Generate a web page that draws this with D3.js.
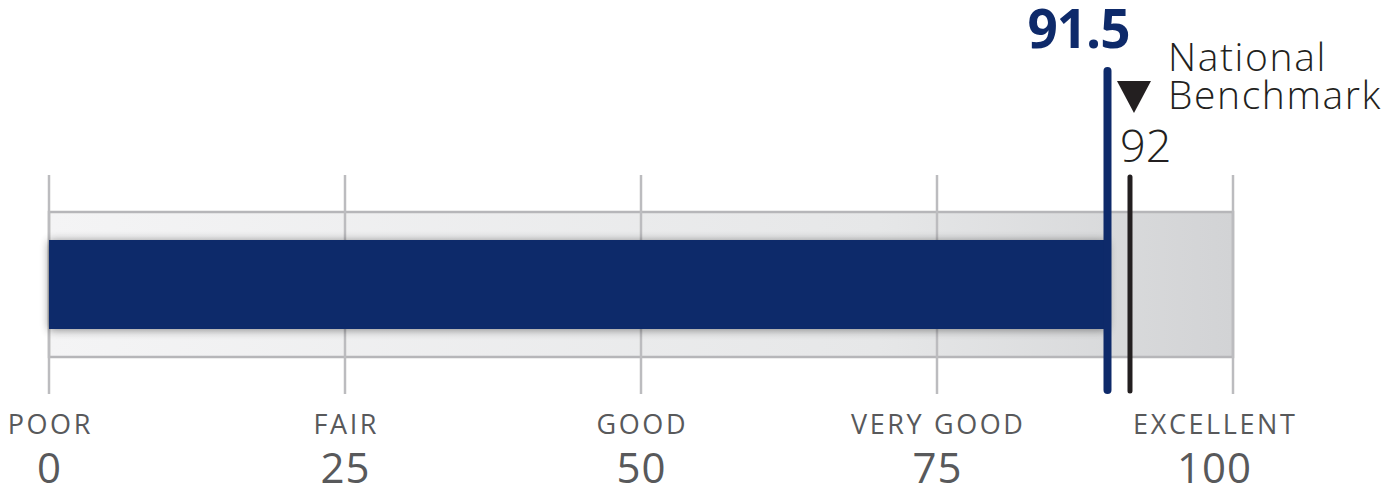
<!DOCTYPE html>
<html>
<head>
<meta charset="utf-8">
<script src="https://cdn.jsdelivr.net/npm/d3@7"></script>
<style>
  body { margin: 0; background: #fff; }
  svg text { font-family: "Open Sans", "DejaVu Sans", sans-serif; }
</style>
</head>
<body>
<div id="chart"></div>
<script>
'use strict';

// tick values and their rating names
var ticks = [0, 25, 50, 75, 100];
var ratings = ["POOR", "FAIR", "GOOD", "VERY GOOD", "EXCELLENT"];

// score shown and benchmark shown
var scoreLabel = [91.5];
var benchLabel = [92];
// where the reference actually draws them on the 0-100 axis
var scorePlot = [89.4];
var benchPlot = [91.3];

var width = 1387,
    height = 489;

var svg = d3.select("#chart").append("svg")
    .attr("width", width)
    .attr("height", height);

var x = d3.scaleLinear().domain([0, 100]).range([49, 1233]);

var defs = svg.append("defs");

var grad = defs.append("linearGradient")
    .attr("id", "trackGrad")
    .attr("x1", "0%").attr("x2", "100%")
    .attr("y1", "0%").attr("y2", "0%");
grad.append("stop").attr("offset", "0%").attr("stop-color", "#f4f4f5");
grad.append("stop").attr("offset", "70%").attr("stop-color", "#e6e7e8");
grad.append("stop").attr("offset", "100%").attr("stop-color", "#d2d3d5");

var shadow = defs.append("filter")
    .attr("id", "barShadow")
    .attr("x", "-5%").attr("y", "-40%")
    .attr("width", "110%").attr("height", "180%");
shadow.append("feGaussianBlur").attr("in", "SourceAlpha").attr("stdDeviation", 5).attr("result", "blur");
shadow.append("feOffset").attr("in", "blur").attr("dx", 0).attr("dy", 1).attr("result", "off");
shadow.append("feComponentTransfer").attr("in", "off").attr("result", "soft")
  .append("feFuncA").attr("type", "linear").attr("slope", 0.45);
var merge = shadow.append("feMerge");
merge.append("feMergeNode").attr("in", "soft");
merge.append("feMergeNode").attr("in", "SourceGraphic");

// background track
svg.append("rect")
    .attr("x", x(0))
    .attr("y", 212)
    .attr("width", x(100) - x(0))
    .attr("height", 145)
    .attr("fill", "url(#trackGrad)")
    .attr("stroke", "#b6b6b9")
    .attr("stroke-width", 2.5);

// grid lines at each tick
svg.selectAll(".grid")
    .data(ticks)
  .enter().append("line")
    .attr("class", "grid")
    .attr("x1", function(d) { return x(d); })
    .attr("x2", function(d) { return x(d); })
    .attr("y1", 175)
    .attr("y2", 394)
    .attr("stroke", "#bcbcbf")
    .attr("stroke-width", 2.5);

// score bar
svg.selectAll(".bar")
    .data(scorePlot)
  .enter().append("rect")
    .attr("class", "bar")
    .attr("x", x(0))
    .attr("y", 240)
    .attr("width", function(d) { return x(d) - x(0); })
    .attr("height", 89)
    .attr("fill", "#0e2a6a")
    .attr("filter", "url(#barShadow)");

// benchmark line
svg.selectAll(".bench")
    .data(benchPlot)
  .enter().append("line")
    .attr("class", "bench")
    .attr("x1", function(d) { return x(d); })
    .attr("x2", function(d) { return x(d); })
    .attr("y1", 177)
    .attr("y2", 391)
    .attr("stroke", "#231f20")
    .attr("stroke-width", 5)
    .attr("stroke-linecap", "round");

// score line
svg.selectAll(".score")
    .data(scorePlot)
  .enter().append("line")
    .attr("class", "score")
    .attr("x1", function(d) { return x(d); })
    .attr("x2", function(d) { return x(d); })
    .attr("y1", 71)
    .attr("y2", 390)
    .attr("stroke", "#0e2a6a")
    .attr("stroke-width", 8)
    .attr("stroke-linecap", "round");

// score label
svg.selectAll(".scoreLabel")
    .data(scoreLabel)
  .enter().append("text")
    .attr("class", "scoreLabel")
    .attr("x", x(scorePlot[0]) + 22)
    .attr("y", 48)
    .attr("text-anchor", "end")
    .attr("fill", "#0e2a6a")
    .style("font-size", "53px")
    .style("font-weight", "bold")
    .style("letter-spacing", "-1px")
    .text(function(d) { return d; });

// benchmark triangle + labels
var bx = x(benchPlot[0]);
svg.append("path")
    .attr("d", d3.line()([[bx - 13, 81], [bx + 21, 81], [bx + 4, 113]]) + "Z")
    .attr("fill", "#231f20");

svg.selectAll(".benchLabel")
    .data(benchLabel)
  .enter().append("text")
    .attr("class", "benchLabel")
    .attr("x", bx - 10)
    .attr("y", 162)
    .attr("fill", "#231f20")
    .style("font-size", "45px")
    .style("font-weight", 300)
    .text(function(d) { return d; });

var nb = svg.append("text")
    .attr("x", bx + 38)
    .attr("y", 71)
    .attr("fill", "#231f20")
    .style("font-size", "39px")
    .style("font-weight", 300)
    .style("letter-spacing", "1.6px");
nb.append("tspan").attr("x", bx + 38).text("National");
nb.append("tspan").attr("x", bx + 38).attr("dy", 38).text("Benchmark");

// rating names and tick values under the axis
function shift(i) { return i === ticks.length - 1 ? -19 : 0; }

svg.selectAll(".rating")
    .data(ticks)
  .enter().append("text")
    .attr("class", "rating")
    .attr("x", function(d, i) { return x(d) + shift(i) + 1.3; })
    .attr("y", 434)
    .attr("text-anchor", "middle")
    .attr("fill", "#58595b")
    .style("font-size", "27px")
    .style("letter-spacing", "2.6px")
    .text(function(d, i) { return ratings[i]; });

svg.selectAll(".tickNum")
    .data(ticks)
  .enter().append("text")
    .attr("class", "tickNum")
    .attr("x", function(d, i) { return x(d) + shift(i) + 0.5; })
    .attr("y", 483)
    .attr("text-anchor", "middle")
    .attr("fill", "#58595b")
    .style("font-size", "42px")
    .style("letter-spacing", "1px")
    .text(function(d) { return d; });
</script>
</body>
</html>
